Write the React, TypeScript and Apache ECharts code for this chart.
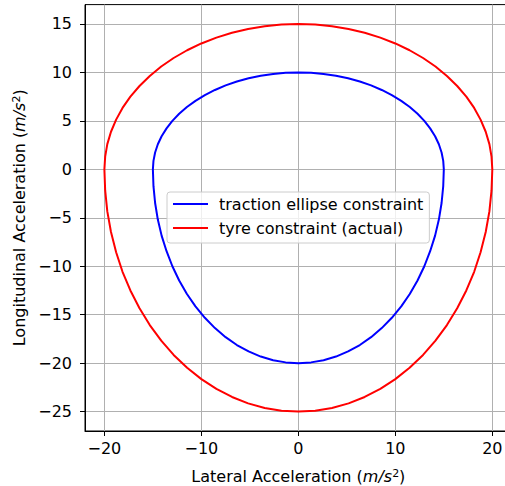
import React, { useEffect, useRef } from "react";
import * as echarts from "echarts";

// Traction ellipse constraint (blue), going round from the top (anticlockwise)
const blueX = [
  0, -1.31, -2.6, -3.88, -5.13, -6.34, -7.5, -8.6, -9.64, -10.61, -11.49, -12.29, -12.99, -13.59, -14.1, -14.49, -14.77, -14.94, -15,
  -14.94, -14.77, -14.49, -14.1, -13.59, -12.99, -12.29, -11.49, -10.61, -9.64, -8.6, -7.5, -6.34, -5.13, -3.88, -2.6, -1.31, 0,
  1.31, 2.6, 3.88, 5.13, 6.34, 7.5, 8.6, 9.64, 10.61, 11.49, 12.29, 12.99, 13.59, 14.1, 14.49, 14.77, 14.94, 15,
  14.94, 14.77, 14.49, 14.1, 13.59, 12.99, 12.29, 11.49, 10.61, 9.64, 8.6, 7.5, 6.34, 5.13, 3.88, 2.6, 1.31, 0,
];
const blueY = [
  10, 9.96, 9.85, 9.66, 9.4, 9.06, 8.66, 8.19, 7.66, 7.07, 6.43, 5.74, 5, 4.23, 3.42, 2.59, 1.74, 0.87, 0,
  -1.74, -3.47, -5.18, -6.84, -8.45, -10, -11.47, -12.86, -14.14, -15.32, -16.38, -17.32, -18.13, -18.79, -19.32, -19.7, -19.92, -20,
  -19.92, -19.7, -19.32, -18.79, -18.13, -17.32, -16.38, -15.32, -14.14, -12.86, -11.47, -10, -8.45, -6.84, -5.18, -3.47, -1.74, 0,
  0.87, 1.74, 2.59, 3.42, 4.23, 5, 5.74, 6.43, 7.07, 7.66, 8.19, 8.66, 9.06, 9.4, 9.66, 9.85, 9.96, 10,
];

// Tyre constraint (actual) (red)
const redX = [
  0, -1.74, -3.47, -5.18, -6.84, -8.45, -10, -11.47, -12.86, -14.14, -15.32, -16.38, -17.32, -18.13, -18.79, -19.32, -19.7, -19.92, -20,
  -19.92, -19.7, -19.32, -18.79, -18.13, -17.32, -16.38, -15.32, -14.14, -12.86, -11.47, -10, -8.45, -6.84, -5.18, -3.47, -1.74, 0,
  1.74, 3.47, 5.18, 6.84, 8.45, 10, 11.47, 12.86, 14.14, 15.32, 16.38, 17.32, 18.13, 18.79, 19.32, 19.7, 19.92, 20,
  19.92, 19.7, 19.32, 18.79, 18.13, 17.32, 16.38, 15.32, 14.14, 12.86, 11.47, 10, 8.45, 6.84, 5.18, 3.47, 1.74, 0,
];
const redY = [
  15, 14.94, 14.77, 14.49, 14.1, 13.59, 12.99, 12.29, 11.49, 10.61, 9.64, 8.6, 7.5, 6.34, 5.13, 3.88, 2.6, 1.31, 0,
  -2.18, -4.34, -6.47, -8.55, -10.57, -12.5, -14.34, -16.07, -17.68, -19.15, -20.48, -21.65, -22.66, -23.49, -24.15, -24.62, -24.9, -25,
  -24.9, -24.62, -24.15, -23.49, -22.66, -21.65, -20.48, -19.15, -17.68, -16.07, -14.34, -12.5, -10.57, -8.55, -6.47, -4.34, -2.18, 0,
  1.31, 2.6, 3.88, 5.13, 6.34, 7.5, 8.6, 9.64, 10.61, 11.49, 12.29, 12.99, 13.59, 14.1, 14.49, 14.77, 14.94, 15,
];

const xTicks = [-20, -10, 0, 10, 20];
const yTicks = [-25, -20, -15, -10, -5, 0, 5, 10, 15];

const seriesNames = ["traction ellipse constraint", "tyre constraint (actual)"];

const FONT = "DejaVu Sans";
const FS = 16;
const fmt = (v: number) => String(v).replace("-", "\u2212");

const pairs = (xs: number[], ys: number[]) => xs.map((x, i) => [x, ys[i]]);

const titleRich = {
  a: { fontFamily: FONT, fontSize: FS, color: "#000", lineHeight: FS, padding: [4, 0, 0, 0], verticalAlign: "bottom" },
  i: { fontFamily: FONT, fontSize: FS, color: "#000", fontStyle: "italic", lineHeight: FS, padding: [4, 0, 0, 0], verticalAlign: "bottom" },
  s: { fontFamily: FONT, fontSize: 11, color: "#000", lineHeight: 11, verticalAlign: "top" },
};

export default function App() {
  const ref = useRef<HTMLDivElement>(null);
  useEffect(() => {
    if (!ref.current) return;
    const chart = echarts.init(ref.current, undefined, { renderer: "svg" });
    const axisCommon = {
      type: "value" as const,
      axisLine: { show: true, onZero: false, lineStyle: { color: "#000", width: 1 } },
      splitLine: { show: true, lineStyle: { color: "#b0b0b0", width: 1 } },
    };
    chart.setOption({
      animation: false,
      backgroundColor: "#fff",
      grid: {
        left: 85, top: 4.6, width: 426.7, height: 426.4,
        outerBoundsMode: "none",
        containLabel: false,
        show: true, borderColor: "#000", borderWidth: 1, backgroundColor: "transparent",
      },
      xAxis: {
        ...axisCommon,
        min: -22, max: 22,
        splitNumber: 4,
        axisTick: { show: true, inside: false, length: 5, customValues: xTicks, lineStyle: { color: "#000" } },
        axisLabel: {
          customValues: xTicks, formatter: fmt, margin: 9,
          fontFamily: FONT, fontSize: FS, color: "#000",
        },
        name: "{a|Lateral Acceleration (}{i|m/s}{s|2}{a|)}",
        nameLocation: "middle",
        nameGap: 37,
        nameTextStyle: { rich: titleRich, verticalAlign: "top" },
      },
      yAxis: {
        ...axisCommon,
        min: -27, max: 17,
        splitNumber: 9,
        axisTick: { show: true, inside: false, length: 5, customValues: yTicks, lineStyle: { color: "#000" } },
        axisLabel: {
          customValues: yTicks, formatter: fmt, margin: 13,
          fontFamily: FONT, fontSize: FS, color: "#000",
        },
        name: "{a|Longitudinal Acceleration (}{i|m/s}{s|2}{a|)}",
        nameLocation: "middle",
        nameRotate: 90,
        nameGap: 57,
        nameTextStyle: { rich: titleRich },
      },
      legend: {
        show: true,
        left: 167, top: 192,
        orient: "vertical",
        icon: "rect",
        itemWidth: 35, itemHeight: 2,
        itemGap: 8,
        padding: [4, 6, 7, 6],
        backgroundColor: "rgba(255,255,255,0.8)",
        borderColor: "#cccccc", borderWidth: 1, borderRadius: 3,
        textStyle: { fontFamily: FONT, fontSize: FS, color: "#000", lineHeight: FS, padding: [0, 0, 0, 6] },
        data: seriesNames,
      },
      series: [
        {
          name: seriesNames[0], type: "line", data: pairs(blueX, blueY),
          smooth: false, showSymbol: false, symbol: "none",
          lineStyle: { color: "#0000ff", width: 2 }, itemStyle: { color: "#0000ff" },
        },
        {
          name: seriesNames[1], type: "line", data: pairs(redX, redY),
          smooth: false, showSymbol: false, symbol: "none",
          lineStyle: { color: "#ff0000", width: 2 }, itemStyle: { color: "#ff0000" },
        },
      ],
    });
    return () => chart.dispose();
  }, []);
  return (
    <div style={{ position: "fixed", left: 0, top: 0, width: 505, height: 486, overflow: "hidden", background: "#fff" }}>
      <div ref={ref} style={{ width: 525, height: 486 }} />
    </div>
  );
}
